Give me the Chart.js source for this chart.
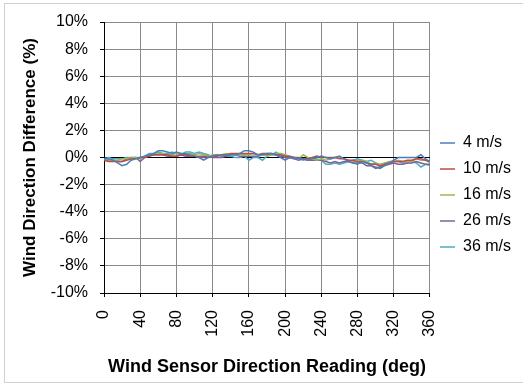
<!DOCTYPE html>
<html>
<head>
<meta charset="utf-8">
<script src="https://cdn.jsdelivr.net/npm/chart.js@4"></script>
<style>
  html, body { margin: 0; padding: 0; background: #fff; }
  #wrap { width: 523px; height: 385px; }
</style>
</head>
<body>
<div id="wrap"><canvas id="chart" width="523" height="385"></canvas></div>
<script>
  // wind sensor direction reading (deg)
  const directions = [0, 5, 10, 15, 20, 25, 30, 35, 40, 45, 50, 55, 60, 65, 70, 75, 80, 85, 90, 95,
    100, 105, 110, 115, 120, 125, 130, 135, 140, 145, 150, 155, 160, 165, 170, 175, 180, 185, 190, 195,
    200, 205, 210, 215, 220, 225, 230, 235, 240, 245, 250, 255, 260, 265, 270, 275, 280, 285, 290, 295,
    300, 305, 310, 315, 320, 325, 330, 335, 340, 345, 350, 355, 360];

  const speedLabels = ["4 m/s", "10 m/s", "16 m/s", "26 m/s", "36 m/s"];

  // difference in %
  const diff4 = [-0.1, -0.1, -0.2, -0.4, -0.6, -0.5, -0.2, -0.1, 0.0, 0.1, 0.2, 0.3, 0.5, 0.5, 0.4, 0.3, 0.4, 0.3, 0.3, 0.2,
    0.1, 0.0, -0.2, 0.0, 0.1, 0.2, 0.1, 0.2, 0.2, 0.2, 0.3, 0.5, 0.5, 0.4, 0.2, 0.2, 0.3, 0.3, 0.2, 0.0,
    -0.2, 0.0, 0.0, -0.1, -0.1, -0.2, -0.1, 0.0, 0.1, 0.0, -0.1, 0.0, 0.1, -0.1, -0.3, -0.4, -0.5, -0.3, -0.4, -0.6,
    -0.7, -0.8, -0.6, -0.4, -0.2, 0.0, 0.0, 0.0, 0.0, 0.0, 0.2, -0.1, -0.3];
  const diff10 = [-0.2, -0.3, -0.3, -0.3, -0.3, -0.2, -0.1, -0.1, 0.0, 0.0, 0.1, 0.2, 0.2, 0.2, 0.2, 0.1, 0.1, 0.2, 0.2, 0.1,
    0.1, 0.1, 0.1, 0.0, 0.1, 0.1, 0.2, 0.2, 0.3, 0.3, 0.3, 0.3, 0.3, 0.3, 0.2, 0.3, 0.3, 0.3, 0.2, 0.2,
    0.1, 0.1, 0.0, 0.0, -0.1, -0.1, 0.0, 0.1, 0.0, 0.0, 0.0, 0.0, -0.1, -0.1, -0.2, -0.2, -0.3, -0.3, -0.4, -0.5,
    -0.5, -0.6, -0.5, -0.4, -0.3, -0.3, -0.3, -0.2, -0.2, -0.1, -0.1, -0.2, -0.3];
  const diff16 = [-0.1, -0.2, -0.2, -0.2, -0.1, -0.1, 0.0, 0.0, -0.1, 0.1, 0.2, 0.2, 0.3, 0.3, 0.2, 0.2, 0.3, 0.3, 0.2, 0.3,
    0.2, 0.3, 0.2, 0.1, 0.2, 0.2, 0.2, 0.3, 0.2, 0.2, 0.2, 0.2, 0.2, 0.3, 0.2, 0.2, 0.1, 0.2, 0.3, 0.3,
    0.2, 0.1, 0.0, -0.1, 0.2, 0.0, -0.1, -0.2, -0.1, -0.2, -0.1, 0.0, 0.0, -0.1, -0.2, -0.3, -0.3, -0.2, -0.3, -0.5,
    -0.4, -0.5, -0.4, -0.3, -0.3, -0.2, -0.3, -0.3, -0.3, -0.1, -0.2, -0.2, -0.4];
  const diff26 = [-0.1, -0.2, -0.2, -0.3, -0.3, -0.1, -0.1, 0.0, -0.3, 0.0, 0.1, 0.2, 0.2, 0.2, 0.1, 0.1, 0.1, 0.2, 0.1, 0.1,
    0.1, 0.0, 0.0, 0.1, 0.0, 0.0, 0.0, 0.1, 0.2, 0.2, 0.1, 0.1, 0.1, 0.1, 0.1, 0.2, 0.2, 0.2, 0.2, 0.1,
    0.0, 0.0, -0.1, -0.2, -0.1, -0.2, -0.2, -0.2, -0.2, -0.3, -0.4, -0.3, -0.4, -0.3, -0.3, -0.4, -0.4, -0.4, -0.6, -0.6,
    -0.8, -0.7, -0.6, -0.5, -0.4, -0.5, -0.5, -0.4, -0.4, -0.3, -0.4, -0.5, -0.5];
  const diff36 = [-0.1, 0.0, -0.1, -0.1, -0.1, 0.0, 0.0, 0.0, 0.0, 0.1, 0.3, 0.3, 0.4, 0.3, 0.3, 0.4, 0.3, 0.2, 0.4, 0.4,
    0.3, 0.4, 0.3, 0.2, 0.0, 0.2, 0.2, 0.1, 0.1, 0.0, 0.0, 0.1, -0.2, 0.0, 0.0, -0.2, 0.1, 0.2, 0.4, 0.2,
    0.1, 0.0, -0.1, -0.1, -0.2, -0.1, 0.0, -0.1, -0.2, -0.5, -0.5, -0.4, -0.5, -0.4, -0.3, -0.2, -0.1, -0.2, -0.3, -0.2,
    -0.4, -0.7, -0.4, -0.4, -0.3, -0.3, -0.4, -0.4, -0.3, -0.4, -0.7, -0.5, -0.6];

  const colors = ["#4A7EBB", "#BE4B48", "#98B954", "#7D60A0", "#4BACC6"];
  const FONT = "Arial, 'Liberation Sans', sans-serif";

  const series = [diff4, diff10, diff16, diff26, diff36];

  const datasets = series.map((vals, i) => ({
    label: speedLabels[i],
    data: vals.map((v, j) => ({ x: directions[j], y: v })),
    borderColor: colors[i],
    backgroundColor: colors[i],
    borderWidth: 1.5,
    pointRadius: 0,
    tension: 0,
  }));

  // light frame around the whole chart, like the spreadsheet export
  const frame = {
    id: "frame",
    beforeDraw(chart) {
      const ctx = chart.ctx;
      ctx.save();
      ctx.fillStyle = "#fff";
      ctx.fillRect(0, 0, chart.width, chart.height);
      ctx.strokeStyle = "#d0d0d0";
      ctx.lineWidth = 1;
      ctx.strokeRect(4.5, 3.5, chart.width - 4, chart.height - 6);
      ctx.restore();
    },
  };

  new Chart(document.getElementById("chart"), {
    type: "line",
    data: { datasets },
    plugins: [frame],
    options: {
      responsive: false,
      animation: false,
      layout: { padding: { top: 22, right: 2, bottom: 17, left: 0 } },
      scales: {
        x: {
          type: "linear",
          min: 0,
          max: 360,
          afterFit: (s) => { s.height = 75; },
          ticks: {
            stepSize: 40,
            minRotation: 90,
            maxRotation: 90,
            padding: 13,
            color: "#000",
            font: { family: FONT, size: 16 },
          },
          grid: { color: "#8a8a8a", tickColor: "#000", tickLength: 4 },
          border: { color: "#000" },
          title: {
            display: true,
            text: "Wind Sensor Direction Reading (deg)",
            color: "#000",
            font: { family: FONT, size: 18, weight: "bold" },
            padding: { top: 0, bottom: -10 },
          },
        },
        y: {
          min: -10,
          max: 10,
          afterFit: (s) => { s.width = 104; },
          ticks: {
            stepSize: 2,
            padding: 12,
            color: "#000",
            font: { family: FONT, size: 16 },
            callback: (v) => v + "%",
          },
          grid: {
            color: (c) => (c.tick && c.tick.value === 0 ? "#000" : "#8a8a8a"),
            tickColor: "#000",
            tickLength: 4,
          },
          border: { color: "#000" },
          title: {
            display: true,
            text: "Wind Direction Difference (%)",
            color: "#000",
            font: { family: FONT, size: 17, weight: "bold" },
            padding: { top: 20, bottom: 0 },
          },
        },
      },
      plugins: {
        legend: {
          position: "right",
          labels: {
            usePointStyle: true,
            pointStyle: "line",
            pointStyleWidth: 15,
            padding: 10,
            color: "#000",
            font: { family: FONT, size: 16 },
          },
        },
        tooltip: { enabled: false },
      },
    },
  });
</script>
</body>
</html>
